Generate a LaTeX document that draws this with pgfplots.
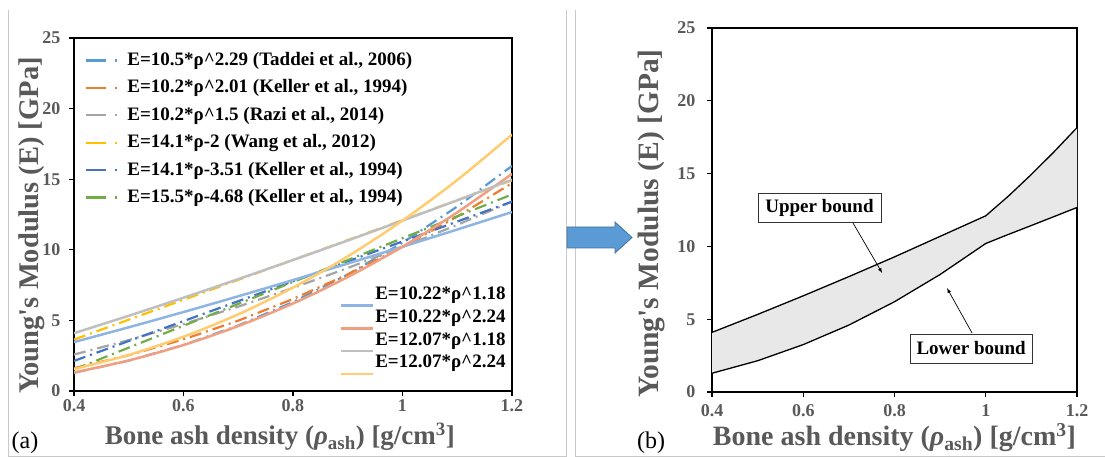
\documentclass[border=0pt]{standalone}
\usepackage{pgfplots}
\pgfplotsset{compat=1.18}
\usepackage{fontspec}
\setmainfont{Liberation Serif}
\definecolor{cA}{HTML}{5B9BD5}
\definecolor{cB}{HTML}{ED7D31}
\definecolor{cC}{HTML}{A5A5A5}
\definecolor{cD}{HTML}{FFC000}
\definecolor{cE}{HTML}{4472C4}
\definecolor{cF}{HTML}{70AD47}
\definecolor{sA}{HTML}{8EB4E3}
\definecolor{sB}{HTML}{F0A080}
\definecolor{sC}{HTML}{BFBFBF}
\definecolor{sD}{HTML}{FFCC70}
\definecolor{tickgray}{HTML}{595959}
\definecolor{framegray}{HTML}{C8C8C8}
\definecolor{bandfill}{HTML}{E8E8E8}
\definecolor{arrowblue}{HTML}{5B9BD5}
\definecolor{arrowedge}{HTML}{41719C}
\newcommand{\tickfont}{\bfseries\fontsize{18}{18}\selectfont}
\newcommand{\legfont}{\bfseries\fontsize{19}{21}\selectfont}
\pgfplotsset{
  panel/.style={
    scale only axis, anchor=south west,
    xmin=0.4, xmax=1.2, ymin=0, ymax=25,
    xtick={0.4,0.6,0.8,1,1.2},
    xticklabels={0.4,0.6,0.8,1,1.2},
    ytick={0,5,10,15,20,25},
    tick align=outside, tick pos=left,
    major tick length=5pt,
    axis line style={line width=1.6pt},
    every tick/.style={black, line width=1.2pt},
    /pgf/number format/assume math mode=true,
    ticklabel style={font=\tickfont, text=tickgray},
    xlabel style={text=tickgray, anchor=center},
    ylabel style={text=tickgray, anchor=center, rotate=0},
  },
  dd/.style={line width=2.2pt, dash pattern=on 12pt off 5pt on 2pt off 5pt},
  sl/.style={line width=2.5pt},
}
\begin{document}
\begin{tikzpicture}
\useasboundingbox (0,0) rectangle (1105pt,457pt);
% panel frames
\draw[framegray, line width=0.8pt] (8pt,447pt) -- (8pt,1pt) -- (566pt,1pt) -- (566pt,447pt);
\draw[framegray, line width=0.8pt] (575pt,447pt) -- (575pt,1pt) -- (1105pt,1pt);
% (a) left panel
\begin{axis}[panel,
  at={(74pt,66pt)}, width=438pt, height=353pt,
  yticklabel style={xshift=-5pt},
  xlabel={Bone ash density (\textit{ρ}\textsubscript{ash}) [g/cm\textsuperscript{3}]},
  ylabel={Young\textquotesingle s Modulus (E) [GPa]},
  xlabel style={at={(rel axis cs:0.47,-0.13)}, font=\bfseries\fontsize{27}{30}\selectfont},
  ylabel style={at={(rel axis cs:-0.096,0.469)}, font=\bfseries\fontsize{28.5}{30}\selectfont},
  legend cell align=left,
  legend image code/.code={\draw[#1, dash pattern=on 20pt off 9pt on 2pt off 20pt] (0pt,0pt) -- (31pt,0pt);},
  legend style={draw=none, fill=none, at={(rel axis cs:0.023,0.971)}, anchor=north west,
    font=\legfont, inner sep=1pt, row sep=5.4pt,
    nodes={inner sep=2pt, text height=14pt, text depth=4pt},
    /tikz/every odd column/.append style={column sep=7pt}},
]
\addplot[dd, cA] coordinates {(0.4,1.288) (0.5,2.147) (0.6,3.259) (0.7,4.640) (0.8,6.299) (0.9,8.249) (1.0,10.5) (1.1,13.061) (1.2,15.941)};
\addlegendentry{E=10.5*ρ\textasciicircum 2.29 (Taddei et al., 2006)}
\addplot[dd, cB] coordinates {(0.4,1.618) (0.5,2.533) (0.6,3.654) (0.7,4.981) (0.8,6.514) (0.9,8.253) (1.0,10.2) (1.1,12.354) (1.2,14.715)};
\addlegendentry{E=10.2*ρ\textasciicircum 2.01 (Keller et al., 1994)}
\addplot[dd, cC] coordinates {(0.4,2.580) (0.5,3.606) (0.6,4.741) (0.7,5.974) (0.8,7.299) (0.9,8.709) (1.0,10.2) (1.1,11.768) (1.2,13.408)};
\addlegendentry{E=10.2*ρ\textasciicircum 1.5 (Razi et al., 2014)}
\addplot[dd, cD] coordinates {(0.4,3.64) (0.8,9.28) (1.2,14.92)};
\addlegendentry{E=14.1*ρ-2 (Wang et al., 2012)}
\addplot[dd, cE] coordinates {(0.4,2.13) (0.8,7.77) (1.2,13.41)};
\addlegendentry{E=14.1*ρ-3.51 (Keller et al., 1994)}
\addplot[dd, cF] coordinates {(0.4,1.52) (0.8,7.72) (1.2,13.92)};
\addlegendentry{E=15.5*ρ-4.68 (Keller et al., 1994)}
\addplot[sl, sA, smooth, forget plot] coordinates {(0.4,3.467) (0.5,4.511) (0.6,5.593) (0.7,6.709) (0.8,7.854) (0.9,9.025) (1.0,10.22) (1.1,11.436) (1.2,12.673)};
\addplot[sl, sB, smooth, forget plot] coordinates {(0.4,1.312) (0.5,2.164) (0.6,3.255) (0.7,4.597) (0.8,6.199) (0.9,8.072) (1.0,10.22) (1.1,12.652) (1.2,15.375)};
\addplot[sl, sC, smooth, forget plot] coordinates {(0.4,4.094) (0.5,5.328) (0.6,6.606) (0.7,7.924) (0.8,9.276) (0.9,10.659) (1.0,12.07) (1.1,13.506) (1.2,14.967)};
\addplot[sl, sD, smooth, forget plot] coordinates {(0.4,1.550) (0.5,2.555) (0.6,3.844) (0.7,5.429) (0.8,7.322) (0.9,9.533) (1.0,12.07) (1.1,14.943) (1.2,18.158)};
\end{axis}
% second legend for the solid curves
\begin{axis}[
  scale only axis, anchor=south west, at={(74pt,66pt)}, width=438pt, height=353pt,
  xmin=0.4, xmax=1.2, ymin=0, ymax=25, hide axis,
  legend cell align=left,
  legend image code/.code={\draw[#1] (0pt,-11pt) -- (32pt,-11pt);},
  legend style={draw=none, fill=none, at={(rel axis cs:0.603,0.306)}, anchor=north west,
    font=\legfont, inner sep=1pt, row sep=0pt,
    nodes={inner sep=1.5pt, text height=14pt, text depth=4pt}},
]
\addlegendimage{sl, sA}
\addlegendentry{E=10.22*ρ\textasciicircum 1.18}
\addlegendimage{sl, sB}
\addlegendentry{E=10.22*ρ\textasciicircum 2.24}
\addlegendimage{sl, sC}
\addlegendentry{E=12.07*ρ\textasciicircum 1.18}
\addlegendimage{sl, sD}
\addlegendentry{E=12.07*ρ\textasciicircum 2.24}
\end{axis}
% (b) right panel
\begin{axis}[panel,
  at={(712pt,65pt)}, width=365pt, height=364pt,
  yticklabel style={xshift=-8pt},
  xticklabel style={yshift=-4pt},
  xlabel={Bone ash density (\textit{ρ}\textsubscript{ash}) [g/cm\textsuperscript{3}]},
  ylabel={Young\textquotesingle s Modulus (E) [GPa]},
  xlabel style={at={(rel axis cs:0.5,-0.124)}, font=\bfseries\fontsize{28}{30}\selectfont},
  ylabel style={at={(rel axis cs:-0.167,0.463)}, font=\bfseries\fontsize{29.5}{30}\selectfont},
]
\addplot[fill=bandfill, draw=none] coordinates {
 (0.4,4.094) (0.5,5.328) (0.6,6.606) (0.7,7.924) (0.8,9.28) (0.9,10.69) (1.0,12.1) (1.05,13.464) (1.1,14.943) (1.15,16.507) (1.2,18.158)
 (1.2,12.673) (1.15,12.052) (1.1,11.436) (1.05,10.826) (1.0,10.2) (0.9,8.072) (0.8,6.199) (0.7,4.597) (0.6,3.255) (0.5,2.147) (0.4,1.288)} -- cycle;
\addplot[black, line width=1.3pt] coordinates {(0.4,4.094) (0.5,5.328) (0.6,6.606) (0.7,7.924) (0.8,9.28) (0.9,10.69) (1.0,12.1) (1.05,13.464) (1.1,14.943) (1.15,16.507) (1.2,18.158)};
\addplot[black, line width=1.3pt] coordinates {(0.4,1.288) (0.5,2.147) (0.6,3.255) (0.7,4.597) (0.8,6.199) (0.9,8.072) (1.0,10.2) (1.05,10.826) (1.1,11.436) (1.15,12.052) (1.2,12.673)};
\draw[-latex, line width=0.7pt] (axis cs:0.709,11.61) -- (axis cs:0.773,8.17);
\draw[-latex, line width=0.7pt] (axis cs:0.970,4.05) -- (axis cs:0.915,7.14);
\node[draw=black!80, line width=0.8pt, fill=white, font=\legfont, minimum width=123pt, minimum height=29pt, inner sep=2pt] at (axis cs:0.6356,12.67) {Upper bound};
\node[draw=black!80, line width=0.8pt, fill=white, font=\legfont, minimum width=122pt, minimum height=29pt, inner sep=2pt] at (axis cs:0.968,2.99) {Lower bound};
\end{axis}
% blue arrow between panels
\draw[fill=arrowblue, draw=arrowedge, line width=0.8pt]
  (567pt,230pt) -- (615pt,230pt) -- (615pt,235pt) -- (632pt,219.5pt) -- (615pt,204pt) -- (615pt,209pt) -- (567pt,209pt) -- cycle;
% panel labels
\node[font=\fontsize{24}{24}\selectfont] at (25pt,14pt) {(a)};
\node[font=\fontsize{24}{24}\selectfont] at (651pt,14pt) {(b)};
\end{tikzpicture}
\end{document}
